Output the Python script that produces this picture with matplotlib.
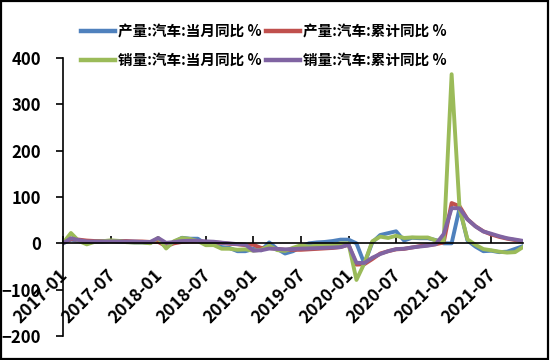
import matplotlib
matplotlib.use('Agg')
import matplotlib.pyplot as plt
from matplotlib.patches import Rectangle
from matplotlib.transforms import ScaledTranslation
import pandas as pd

plt.rcParams['font.family'] = ['Noto Sans CJK SC', 'DejaVu Sans']

# months 2017-01 .. 2021-11
months = list(pd.date_range('2017-01', '2021-11', freq='MS').strftime('%Y-%m'))

# 产量:汽车:当月同比 %
prod_month = [0, 8, 5, 3, 4, 4, 5, 4, 3, 2, 2, 1,
              9, -8, 3, 12, 10, 10, -2, -1, -8, -10, -17, -17,
              -12, -15, 2, -12, -22, -17, -8, 0, 2, 3, 5, 8,
              8, 0, -44, 2, 18, 22, 26, 6, 12, 11, 11, 7,
              0, 0, 76, 6, -7, -17, -16, -19, -18, -12, -6]
# 产量:汽车:累计同比 %
prod_cum = [2, 9, 8, 6, 5, 5, 5, 5, 5, 4, 4, 3,
            3, -6, 0, 3, 4, 4, 3, 2, 1, -1, -2, -4,
            -3, -10, -10, -12, -14, -14, -14, -13, -12, -11, -10, -8,
            -3, -46, -45, -34, -22, -17, -13, -12, -9, -6, -4, -2,
            2, 87, 80, 52, 37, 26, 19, 14, 10, 7, 4]
# 销量:汽车:当月同比 %
sales_month = [0.2, 22.3, 4.8, -2.2, 3.3, 4.5, 6.5, 5.3, 2.5, 1.9, 1.8, 0.1,
               11.6, -11.1, 4.7, 11.5, 9.6, 4.8, -4.0, -3.8, -11.6, -11.7, -13.9, -13.0,
               -15.8, -13.8, -5.2, -14.6, -16.4, -9.6, -4.3, -6.9, -5.2, -4.0, -3.6, -0.1,
               0, -79, -43, 4.4, 14.5, 11.6, 16.4, 11.6, 12.8, 12.5, 12.6, 6.4,
               5, 365, 75, 8.6, -3.1, -12.4, -15, -18, -20, -19, -8]
# 销量:汽车:累计同比 %
sales_cum = [0, 11, 7, 4, 4, 4, 4, 4, 4, 4, 3, 3,
             11.6, 1.1, 2.8, 5.0, 5.6, 5.6, 4.2, 3.5, 1.5, -0.1, -1.7, -2.8,
             -15.8, -14.9, -11.3, -12.1, -13.0, -12.3, -11.4, -11.0, -10.3, -9.7, -9.1, -8.2,
             -3, -42, -42.4, -31.1, -23.1, -16.9, -12.5, -11.6, -9.0, -6.9, -5.1, -1.9,
             20, 76, 75.6, 51.8, 36.6, 25.6, 20.7, 15.4, 11.0, 8.2, 5.3]

series = [
    ('产量:汽车:当月同比 %', prod_month, '#4F81BD'),
    ('产量:汽车:累计同比 %', prod_cum, '#C0504D'),
    ('销量:汽车:当月同比 %', sales_month, '#9BBB59'),
    ('销量:汽车:累计同比 %', sales_cum, '#8064A2'),
]

fig = plt.figure(figsize=(5.5, 3.6), dpi=100)
ax = fig.add_axes([63/550, 1 - 336/360, 460/550, 278/360])

x = list(range(len(months)))
lines = {}
for name, vals, col in series:
    ln, = ax.plot(x, vals, color=col, lw=2.8, label=name, solid_joinstyle='round')
    lines[name] = ln

ax.set_xlim(0, len(months) - 1)
ax.set_ylim(-200, 400)
ax.set_yticks(range(-200, 401, 100))

ax.spines['top'].set_visible(False)
ax.spines['right'].set_visible(False)
ax.spines['bottom'].set_position(('data', 0))
ax.spines['bottom'].set_linewidth(1.2)
ax.spines['left'].set_linewidth(1.2)

tick_pos = x[::6]
ax.set_xticks(tick_pos)
ax.set_xticklabels([months[i] for i in tick_pos], rotation=45, ha='right', va='top',
                   fontsize=12.5, fontweight='bold')
ax.tick_params(axis='x', direction='in', length=5, width=1.2, pad=16)
ax.tick_params(axis='y', direction='out', length=5, width=1.2, pad=11, labelsize=12)
for lab in ax.get_yticklabels():
    lab.set_fontweight('bold')
for lab in ax.get_xticklabels():
    lab.set_transform(lab.get_transform() + ScaledTranslation(6/72, 0, fig.dpi_scale_trans))

order = ['产量:汽车:当月同比 %', '销量:汽车:当月同比 %', '产量:汽车:累计同比 %', '销量:汽车:累计同比 %']
leg = fig.legend([lines[n] for n in order], order, ncol=2, loc='upper left',
                 bbox_to_anchor=(81/550, 1 - 23/360), frameon=False,
                 borderpad=0, borderaxespad=0, handlelength=2.3, handletextpad=0.25,
                 columnspacing=0.3, labelspacing=0.9,
                 prop={'size': 10.5, 'weight': 'bold'})
for ln in leg.get_lines():
    ln.set_linewidth(3.2)

fig.patches.append(Rectangle((0.002, 0.003), 0.995, 0.993, transform=fig.transFigure,
                             fill=False, edgecolor='black', lw=1.6))

fig.savefig('out.png', dpi=100)
